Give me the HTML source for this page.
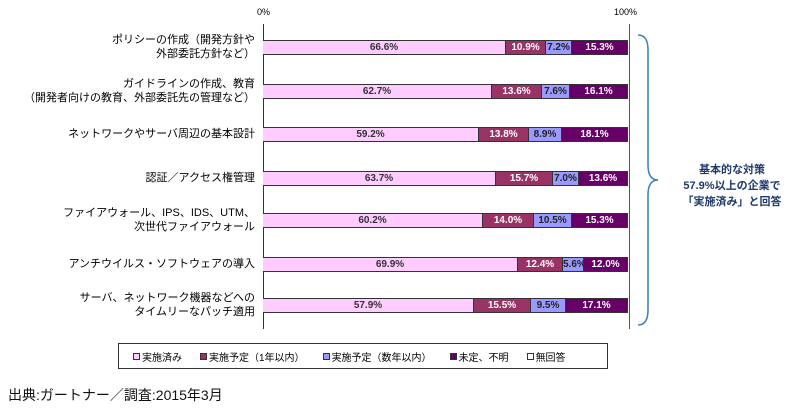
<!DOCTYPE html><html><head><meta charset="utf-8"><style>
body{margin:0;width:800px;height:416px;background:#fff;position:relative;overflow:hidden;font-family:"Liberation Sans","Noto Sans CJK JP",sans-serif}
.a{position:absolute}
.lab{position:absolute;right:545px;text-align:right;font-size:11px;line-height:14px;color:#000;white-space:nowrap}
.bar{position:absolute;left:263px;height:15px;display:flex;border-top:1px solid #333;border-bottom:1px solid #333;box-sizing:border-box}
.bar div{height:100%;font-size:10px;line-height:13px;text-align:center;box-sizing:border-box;border-right:1px solid #333;overflow:hidden;white-space:nowrap;font-weight:bold}
.c1{background:#ffccff;color:#333}.c2{background:#993366;color:#fff}.c3{background:#9999ff;color:#222}.c4{background:#660066;color:#fff}
.lg{font-size:10px;margin-right:18px}
.sq{display:inline-block;width:5px;height:5px;border:1px solid #333;margin-right:2px;vertical-align:1px}
</style></head><body>
<div class="a" style="left:257px;top:7px;font-size:9px">0%</div>
<div class="a" style="left:614px;top:7px;font-size:9px">100%</div>
<div class="a" style="left:263px;top:24px;width:365px;height:305px;border-left:1px solid #333;border-right:1px solid #555"></div>
<div class="lab" style="top:33px">ポリシーの作成（開発方針や<br>外部委託方針など）</div>
<div class="lab" style="top:77px">ガイドラインの作成、教育<br>（開発者向けの教育、外部委託先の管理など）</div>
<div class="lab" style="top:127px">ネットワークやサーバ周辺の基本設計</div>
<div class="lab" style="top:171px">認証／アクセス権管理</div>
<div class="lab" style="top:206px">ファイアウォール、IPS、IDS、UTM、<br>次世代ファイアウォール</div>
<div class="lab" style="top:257px">アンチウイルス・ソフトウェアの導入</div>
<div class="lab" style="top:291px">サーバ、ネットワーク機器などへの<br>タイムリーなパッチ適用</div>
<div class="bar" style="top:40px"><div class="c1" style="width:243px">66.6%</div><div class="c2" style="width:40px">10.9%</div><div class="c3" style="width:26px">7.2%</div><div class="c4" style="width:56px">15.3%</div></div>
<div class="bar" style="top:84px"><div class="c1" style="width:229px">62.7%</div><div class="c2" style="width:50px">13.6%</div><div class="c3" style="width:28px">7.6%</div><div class="c4" style="width:58px">16.1%</div></div>
<div class="bar" style="top:127px"><div class="c1" style="width:216px">59.2%</div><div class="c2" style="width:50px">13.8%</div><div class="c3" style="width:33px">8.9%</div><div class="c4" style="width:66px">18.1%</div></div>
<div class="bar" style="top:171px"><div class="c1" style="width:233px">63.7%</div><div class="c2" style="width:57px">15.7%</div><div class="c3" style="width:26px">7.0%</div><div class="c4" style="width:49px">13.6%</div></div>
<div class="bar" style="top:213px"><div class="c1" style="width:220px">60.2%</div><div class="c2" style="width:51px">14.0%</div><div class="c3" style="width:38px">10.5%</div><div class="c4" style="width:56px">15.3%</div></div>
<div class="bar" style="top:257px"><div class="c1" style="width:255px">69.9%</div><div class="c2" style="width:45px">12.4%</div><div class="c3" style="width:21px">5.6%</div><div class="c4" style="width:44px">12.0%</div></div>
<div class="bar" style="top:298px"><div class="c1" style="width:211px">57.9%</div><div class="c2" style="width:57px">15.5%</div><div class="c3" style="width:35px">9.5%</div><div class="c4" style="width:62px">17.1%</div></div>
<div class="a" style="left:118px;top:343px;width:490px;height:26px;border:1px solid #333;box-sizing:border-box;display:flex;align-items:center;padding-left:14px">
<span class="lg"><span class="sq" style="background:#ffccff"></span>実施済み</span><span class="lg"><span class="sq" style="background:#993366"></span>実施予定（1年以内）</span><span class="lg"><span class="sq" style="background:#9999ff"></span>実施予定（数年以内）</span><span class="lg"><span class="sq" style="background:#660066"></span>未定、不明</span><span class="lg"><span class="sq" style="background:#fff"></span>無回答</span></div>
<svg class="a" style="left:630px;top:30px" width="40" height="300"><path d="M8 5 Q18 5 18 20 L18 135 Q18 150 28 150 Q18 150 18 165 L18 280 Q18 295 8 295" fill="none" stroke="#3a7fc0" stroke-width="1.5"/></svg>
<div class="a" style="left:664px;top:162px;width:136px;text-align:center;font-size:11px;font-weight:bold;line-height:16px;color:#1f3a6e">基本的な対策<br>57.9%以上の企業で<br>「実施済み」と回答</div>
<div class="a" style="left:8px;top:385px;font-size:14px;color:#111">出典:ガートナー／調査:2015年3月</div>
</body></html>
